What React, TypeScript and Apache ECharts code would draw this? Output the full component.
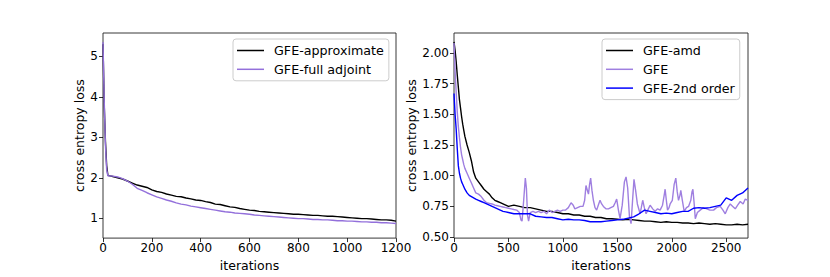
import React, { useEffect, useRef } from "react";
import * as echarts from "echarts";

// ---- Left panel data ----
const leftX = [0, 5, 10, 15, 20, 40, 60, 80, 100, 120, 140, 160, 180, 200, 220, 240, 260, 280, 300, 320, 340, 360, 380, 400, 420, 440, 460, 480, 500, 520, 540, 560, 580, 600, 620, 640, 660, 680, 700, 720, 740, 760, 780, 800, 820, 840, 860, 880, 900, 920, 940, 960, 980, 1000, 1020, 1040, 1060, 1080, 1100, 1120, 1140, 1160, 1180, 1200];
const approxY = [5.3, 3.8, 2.9, 2.3, 2.06, 2.03, 2.0, 1.97, 1.92, 1.87, 1.82, 1.79, 1.76, 1.7, 1.66, 1.64, 1.6, 1.57, 1.54, 1.53, 1.5, 1.48, 1.45, 1.44, 1.41, 1.39, 1.35, 1.34, 1.31, 1.28, 1.27, 1.24, 1.22, 1.2, 1.19, 1.17, 1.16, 1.15, 1.14, 1.13, 1.12, 1.11, 1.1, 1.1, 1.09, 1.08, 1.07, 1.07, 1.06, 1.05, 1.05, 1.04, 1.03, 1.02, 1.01, 1.0, 0.99, 0.99, 0.98, 0.97, 0.96, 0.96, 0.95, 0.93];
const fullAdjY = [5.35, 3.9, 2.8, 2.2, 2.05, 2.04, 2.02, 1.98, 1.92, 1.84, 1.74, 1.69, 1.63, 1.58, 1.53, 1.49, 1.45, 1.42, 1.38, 1.35, 1.33, 1.3, 1.28, 1.26, 1.24, 1.22, 1.2, 1.18, 1.16, 1.15, 1.13, 1.12, 1.11, 1.1, 1.08, 1.07, 1.06, 1.05, 1.04, 1.03, 1.02, 1.01, 1.0, 0.99, 0.99, 0.98, 0.97, 0.97, 0.96, 0.96, 0.95, 0.94, 0.94, 0.93, 0.93, 0.92, 0.91, 0.91, 0.9, 0.9, 0.89, 0.89, 0.88, 0.87];
const leftXTicks = [0, 200, 400, 600, 800, 1000, 1200];
const leftYTicks = [1, 2, 3, 4, 5];

// ---- Right panel data ----
const rightX = [0, 10, 20, 30, 40, 50, 60, 70, 80, 90, 100, 120, 140, 160, 180, 200, 225, 250, 275, 300, 325, 350, 375, 400, 425, 450, 475, 500, 550, 600, 650, 700, 750, 800, 850, 900, 950, 1000, 1050, 1100, 1150, 1200, 1250, 1300, 1350, 1400, 1450, 1500, 1550, 1600, 1650, 1700, 1750, 1800, 1850, 1900, 1950, 2000, 2050, 2100, 2150, 2200, 2250, 2300, 2350, 2400, 2450, 2500, 2550, 2600, 2650, 2700];
const amdY = [2.09, 2.02, 1.93, 1.82, 1.72, 1.62, 1.55, 1.48, 1.42, 1.37, 1.32, 1.25, 1.19, 1.12, 1.03, 0.98, 0.95, 0.92, 0.89, 0.87, 0.85, 0.82, 0.8, 0.79, 0.78, 0.77, 0.76, 0.75, 0.76, 0.75, 0.74, 0.74, 0.73, 0.72, 0.71, 0.71, 0.7, 0.69, 0.69, 0.68, 0.68, 0.67, 0.67, 0.66, 0.66, 0.65, 0.65, 0.645, 0.64, 0.645, 0.64, 0.635, 0.63, 0.63, 0.625, 0.62, 0.625, 0.62, 0.62, 0.615, 0.615, 0.61, 0.615, 0.61, 0.605, 0.61, 0.605, 0.6, 0.6, 0.605, 0.6, 0.605];
const secondY = [1.67, 1.5, 1.38, 1.22, 1.08, 1.02, 0.98, 0.95, 0.93, 0.91, 0.89, 0.86, 0.84, 0.83, 0.82, 0.81, 0.8, 0.79, 0.78, 0.77, 0.76, 0.75, 0.74, 0.73, 0.72, 0.71, 0.705, 0.7, 0.69, 0.69, 0.69, 0.69, 0.67, 0.665, 0.66, 0.66, 0.65, 0.64, 0.645, 0.64, 0.64, 0.635, 0.625, 0.625, 0.625, 0.63, 0.635, 0.64, 0.645, 0.655, 0.665, 0.69, 0.72, 0.71, 0.7, 0.69, 0.695, 0.69, 0.7, 0.71, 0.71, 0.735, 0.74, 0.735, 0.74, 0.75, 0.76, 0.82, 0.8, 0.84, 0.86, 0.9];
const gfeX = [0, 10, 20, 30, 40, 50, 60, 70, 80, 90, 100, 120, 140, 160, 180, 200, 225, 250, 275, 300, 325, 350, 375, 400, 425, 450, 475, 500, 525, 550, 575, 600, 615, 625, 640, 655, 665, 675, 685, 700, 725, 750, 775, 800, 825, 850, 875, 900, 925, 950, 975, 1000, 1025, 1050, 1075, 1095, 1110, 1135, 1160, 1185, 1200, 1212, 1225, 1235, 1245, 1255, 1267, 1280, 1295, 1310, 1325, 1341, 1356, 1372, 1395, 1418, 1440, 1464, 1480, 1494, 1510, 1525, 1545, 1565, 1580, 1595, 1611, 1626, 1640, 1653, 1668, 1684, 1709, 1720, 1733, 1748, 1764, 1785, 1801, 1825, 1847, 1870, 1893, 1915, 1932, 1939, 1950, 1961, 1975, 1985, 2005, 2022, 2037, 2050, 2062, 2075, 2083, 2097, 2114, 2135, 2154, 2175, 2186, 2194, 2205, 2216, 2235, 2261, 2290, 2322, 2350, 2384, 2410, 2445, 2470, 2491, 2515, 2537, 2560, 2583, 2605, 2629, 2655, 2675, 2700];
const gfeY = [2.08, 1.85, 1.68, 1.52, 1.4, 1.31, 1.23, 1.17, 1.13, 1.09, 1.06, 1.02, 0.98, 0.94, 0.9, 0.86, 0.85, 0.83, 0.8, 0.78, 0.775, 0.77, 0.76, 0.755, 0.75, 0.745, 0.74, 0.735, 0.73, 0.725, 0.72, 0.7, 0.64, 0.63, 0.8, 0.98, 0.9, 0.68, 0.63, 0.7, 0.71, 0.7, 0.71, 0.7, 0.71, 0.69, 0.72, 0.7, 0.71, 0.72, 0.71, 0.72, 0.72, 0.74, 0.78, 0.76, 0.73, 0.74, 0.75, 0.75, 0.8, 0.92, 0.88, 0.85, 0.93, 0.98, 0.88, 0.8, 0.74, 0.72, 0.76, 0.8, 0.77, 0.75, 0.73, 0.73, 0.74, 0.75, 0.78, 0.81, 0.72, 0.65, 0.76, 0.95, 0.99, 0.9, 0.67, 0.61, 0.8, 0.97, 0.88, 0.77, 0.69, 0.74, 0.8, 0.74, 0.69, 0.73, 0.76, 0.73, 0.71, 0.73, 0.72, 0.76, 0.85, 0.89, 0.8, 0.72, 0.74, 0.77, 0.8, 0.93, 0.98, 0.87, 0.8, 0.84, 0.88, 0.8, 0.71, 0.74, 0.75, 0.8, 0.87, 0.89, 0.78, 0.65, 0.7, 0.72, 0.74, 0.73, 0.72, 0.72, 0.74, 0.75, 0.72, 0.69, 0.74, 0.77, 0.75, 0.73, 0.76, 0.79, 0.77, 0.81, 0.8];
const rightXTicks = [0, 500, 1000, 1500, 2000, 2500];
const rightYTicks = [0.5, 0.75, 1.0, 1.25, 1.5, 1.75, 2.0];

const FONT = "DejaVu Sans";

function pairs(xs: number[], ys: number[]) {
  return xs.map((x, i) => [x, ys[i]]);
}

function xAxisCfg(gridIndex: number, max: number, ticks: number[]) {
  return {
    type: "value",
    gridIndex,
    min: 0,
    max,
    name: "iterations",
    nameLocation: "middle",
    nameGap: 17,
    nameTextStyle: { color: "#000", fontSize: 12.5, fontFamily: FONT },
    axisLine: { show: false },
    axisTick: { show: true, length: 4, lineStyle: { color: "#000", width: 0.8 }, customValues: ticks },
    axisLabel: { color: "#000", fontSize: 12, fontFamily: FONT, margin: 4, customValues: ticks, formatter: (v: number) => String(v) },
    splitLine: { show: false },
  };
}

function yAxisCfg(gridIndex: number, min: number, max: number, ticks: number[], gap: number, fmt: (v: number) => string) {
  return {
    type: "value",
    gridIndex,
    min,
    max,
    name: "cross entropy loss",
    nameLocation: "middle",
    nameGap: gap,
    nameTextStyle: { color: "#000", fontSize: 12.5, fontFamily: FONT },
    axisLine: { show: false },
    axisTick: { show: true, length: 4, lineStyle: { color: "#000", width: 0.8 }, customValues: ticks },
    axisLabel: { color: "#000", fontSize: 12, fontFamily: FONT, margin: 5, customValues: ticks, formatter: fmt },
    splitLine: { show: false },
  };
}

function legendCfg(left: number, names: string[]) {
  return {
    orient: "vertical",
    left,
    top: 39,
    data: names,
    icon: "rect",
    itemWidth: 27,
    itemHeight: 1.5,
    itemGap: 5.8,
    padding: [5, 5, 5, 4],
    backgroundColor: "rgba(255,255,255,0.8)",
    borderColor: "#cccccc",
    borderWidth: 1,
    borderRadius: 3,
    selectedMode: false,
    textStyle: { color: "#000", fontSize: 12.7, fontFamily: FONT, lineHeight: 13, padding: [0, 0, 0, 5] },
  };
}

export default function App() {
  const ref = useRef<HTMLDivElement>(null);
  useEffect(() => {
    if (!ref.current) return;
    const chart = echarts.init(ref.current, undefined, { renderer: "svg" });
    const gridBase = { show: true, borderColor: "#222", borderWidth: 0.9, backgroundColor: "transparent", containLabel: false };
    chart.setOption({
      animation: false,
      backgroundColor: "#fff",
      grid: [
        { ...gridBase, left: 103, top: 33, width: 293, height: 209 },
        { ...gridBase, left: 454, top: 33, width: 294, height: 209 },
      ],
      xAxis: [xAxisCfg(0, 1200, leftXTicks), xAxisCfg(1, 2700, rightXTicks)],
      yAxis: [
        yAxisCfg(0, 0.51, 5.575, leftYTicks, 13, (v: number) => String(v)),
        yAxisCfg(1, 0.492, 2.162, rightYTicks, 34, (v: number) => v.toFixed(2)),
      ],
      legend: [
        legendCfg(233, ["GFE-approximate", "GFE-full adjoint"]),
        legendCfg(602, ["GFE-amd", "GFE", "GFE-2nd order"]),
      ],
      series: [
        { name: "GFE-approximate", type: "line", xAxisIndex: 0, yAxisIndex: 0, data: pairs(leftX, approxY), showSymbol: false, color: "#000", lineStyle: { width: 1.4, color: "#000" } },
        { name: "GFE-full adjoint", type: "line", xAxisIndex: 0, yAxisIndex: 0, data: pairs(leftX, fullAdjY), showSymbol: false, color: "#9370DB", lineStyle: { width: 1.4, color: "#9370DB" } },
        { name: "GFE-amd", type: "line", xAxisIndex: 1, yAxisIndex: 1, data: pairs(rightX, amdY), showSymbol: false, color: "#000", lineStyle: { width: 1.4, color: "#000" } },
        { name: "GFE", type: "line", xAxisIndex: 1, yAxisIndex: 1, data: pairs(gfeX, gfeY), showSymbol: false, color: "#9f7fe0", lineStyle: { width: 1.4, color: "#9f7fe0" } },
        { name: "GFE-2nd order", type: "line", xAxisIndex: 1, yAxisIndex: 1, data: pairs(rightX, secondY), showSymbol: false, color: "#0000ff", lineStyle: { width: 1.4, color: "#0000ff" } },
      ],
    });
    return () => chart.dispose();
  }, []);
  return <div ref={ref} style={{ position: "fixed", left: 0, top: 0, width: 830, height: 277 }} />;
}
